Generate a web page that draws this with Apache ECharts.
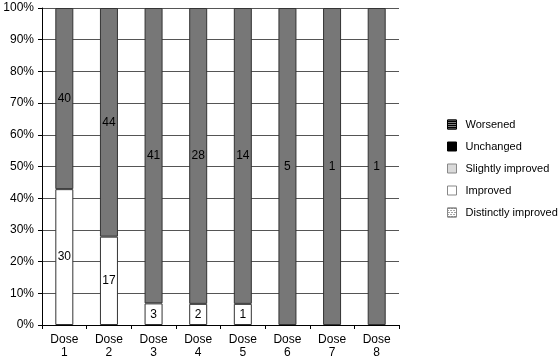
<!DOCTYPE html>
<html>
<head>
<meta charset="utf-8">
<script src="https://cdn.jsdelivr.net/npm/echarts@6/dist/echarts.min.js"></script>
<style>html,body{margin:0;padding:0;background:#fff}#c{width:560px;height:360px}</style>
</head>
<body>
<div id="c"></div>
<script>
var categories = ['Dose\n1','Dose\n2','Dose\n3','Dose\n4','Dose\n5','Dose\n6','Dose\n7','Dose\n8'];
var distinctlyImproved = [0,0,0,0,0,0,0,0];
var improved = [30,17,3,2,1,0,0,0];
var slightlyImproved = [40,44,41,28,14,5,1,1];
var unchanged = [0,0,0,0,0,0,0,0];
var worsened = [0,0,0,0,0,0,0,0];
var yTicks = [0,10,20,30,40,50,60,70,80,90,100];

var totals = categories.map(function(_, i){
  return distinctlyImproved[i]+improved[i]+slightlyImproved[i]+unchanged[i]+worsened[i];
});
function pct(arr){ return arr.map(function(v,i){ return {value: (totals[i] && v) ? v/totals[i]*100 : null, count: v}; }); }

var FONT = 'Liberation Sans, Arial, sans-serif';
var dotDecal = {symbol: 'rect', symbolSize: 1, dashArrayX: [[1,2],[0,1,1,1]], dashArrayY: [1,1], color: '#444'};
var checkDecal = {symbol: 'rect', symbolSize: 1, dashArrayX: [[1,1],[0,1,1,0]], dashArrayY: [1,1], color: '#fff'};
function mk(name, arr, color, decal){
  var s = {
    name: name, type: 'bar', stack: 'all', data: pct(arr), barWidth: 18,
    itemStyle: {color: color, borderColor: '#333', borderWidth: 1},
    label: {show: true, position: 'inside', color: '#000', fontFamily: FONT, fontSize: 12,
      formatter: function(p){ return p.data.count ? String(p.data.count) : ''; }}
  };
  if (decal) s.itemStyle.decal = decal;
  return s;
}

var chart = echarts.init(document.getElementById('c'), null, {renderer: 'canvas'});
chart.setOption({
  animation: false,
  grid: {left: 42, top: 8, width: 357, height: 317, containLabel: false},
  legend: {
    orient: 'vertical', left: 442, top: 113, itemWidth: 9, itemHeight: 9, itemGap: 9, icon: 'rect',
    textStyle: {fontFamily: FONT, fontSize: 11, color: '#000', padding: [0,0,0,4], lineHeight: 13},
    data: [
      {name: 'Worsened', itemStyle: {color: '#000', borderColor: '#000', borderWidth: 1, decal: checkDecal}},
      {name: 'Unchanged', itemStyle: {color: '#000', borderColor: '#000', borderWidth: 1, decal: 'none'}},
      {name: 'Slightly improved', itemStyle: {color: '#dadada', borderColor: '#888', borderWidth: 1, decal: 'none'}},
      {name: 'Improved', itemStyle: {color: '#fff', borderColor: '#888', borderWidth: 1, decal: 'none'}},
      {name: 'Distinctly improved', itemStyle: {color: '#fff', borderColor: '#888', borderWidth: 1, decal: dotDecal}}
    ]
  },
  xAxis: {
    type: 'category', data: categories,
    axisLine: {lineStyle: {color: '#000', width: 1}},
    axisTick: {show: true, length: 4, lineStyle: {color: '#000'}},
    axisLabel: {fontFamily: FONT, fontSize: 12, color: '#000', margin: 8, lineHeight: 13}
  },
  yAxis: {
    type: 'value', min: yTicks[0], max: yTicks[yTicks.length-1], interval: 10,
    axisLine: {show: true, lineStyle: {color: '#000'}},
    axisTick: {show: true, length: 4, lineStyle: {color: '#000'}},
    axisLabel: {fontFamily: FONT, fontSize: 12, color: '#000', margin: 8, formatter: '{value}%'},
    splitLine: {show: true, lineStyle: {color: '#555', width: 1}}
  },
  series: [
    mk('Distinctly improved', distinctlyImproved, '#fff', dotDecal),
    mk('Improved', improved, '#fff'),
    mk('Slightly improved', slightlyImproved, '#777'),
    mk('Unchanged', unchanged, '#000'),
    mk('Worsened', worsened, '#000', checkDecal)
  ]
});
</script>
</body>
</html>
